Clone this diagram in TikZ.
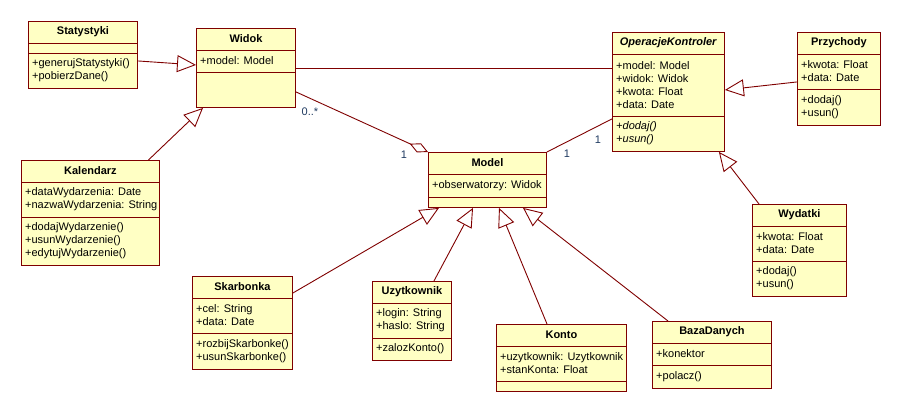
\documentclass[tikz,border=0pt]{standalone}
\usepackage{fontspec}
\setmainfont{Liberation Sans}
\usetikzlibrary{arrows.meta}

\definecolor{bordo}{HTML}{7F0000}
\definecolor{tlo}{HTML}{FFFFC4}
\definecolor{granat}{HTML}{1F3A60}

\tikzset{
  klasa/.style={draw=bordo, fill=tlo, line width=0.9pt, inner sep=0pt, anchor=north west},
  naglowek/.style={font=\fontsize{11}{13}\selectfont\bfseries, inner sep=0pt},
  pola/.style={font=\fontsize{11}{13}\selectfont, align=left, inner xsep=4pt, inner ysep=0pt, anchor=west},
  linia/.style={draw=bordo, line width=0.9pt},
  uogolnienie/.style={linia, -{Triangle[open, length=19pt, width=17pt]}},
  agregacja/.style={linia, -{Diamond[open, length=20pt, width=10pt]}},
  etykieta/.style={font=\fontsize{11}{13}\selectfont, text=granat, inner sep=0pt}
}

% nazwa, x, y, szerokosc, wys. atrybutow, wys. operacji, tytul, atrybuty, operacje
\newcommand{\klasa}[9]{%
  \node[klasa, minimum width=#4, minimum height=22+#5+#6] (#1) at (#2,#3) {};
  \node[naglowek] (#1-n) at ([yshift=-11]#1.north) {#7};
  \draw[linia] ([yshift=-22]#1.north west) -- ([yshift=-22]#1.north east);
  \draw[linia] ([yshift=-22-#5]#1.north west) -- ([yshift=-22-#5]#1.north east);
  \node[pola] (#1-a) at ([yshift=-22-#5/2]#1.north west) {#8};
  \node[pola] (#1-o) at ([yshift=-22-#5-#6/2]#1.north west) {#9};
}

\begin{document}
\begin{tikzpicture}[x=1pt, y=-1pt]

  \useasboundingbox (0,0) rectangle (901,412);

  \klasa{statystyki}{28}{21}{109}{10}{35}{Statystyki}{}{+generujStatystyki()\\+pobierzDane()}
  \klasa{widok}{196}{28}{99}{22}{35}{Widok}{+model: Model}{}
  \klasa{kalendarz}{21}{160}{138}{35}{48}{Kalendarz}%
    {+dataWydarzenia: Date\\+nazwaWydarzenia: String}%
    {+dodajWydarzenie()\\+usunWydarzenie()\\+edytujWydarzenie()}
  \klasa{operacje}{612}{32}{112}{62}{35}{\textit{OperacjeKontroler}}%
    {+model: Model\\+widok: Widok\\+kwota: Float\\+data: Date}%
    {\textit{+dodaj()}\\\textit{+usun()}}
  \klasa{przychody}{797}{32}{83}{35}{36}{Przychody}{+kwota: Float\\+data: Date}{+dodaj()\\+usun()}
  \klasa{model}{428}{152}{118}{23}{10}{Model}{+obserwatorzy: Widok}{}
  \klasa{wydatki}{752}{204}{94}{35}{35}{Wydatki}{+kwota: Float\\+data: Date}{+dodaj()\\+usun()}
  \klasa{skarbonka}{192}{276}{100}{35}{36}{Skarbonka}{+cel: String\\+data: Date}%
    {+rozbijSkarbonke()\\+usunSkarbonke()}
  \klasa{uzytkownik}{372}{281}{79}{35}{22}{Uzytkownik}{+login: String\\+haslo: String}{+zalozKonto()}
  \klasa{konto}{496}{324}{130}{35}{10}{Konto}{+uzytkownik: Uzytkownik\\+stanKonta: Float}{}
  \klasa{baza}{652}{321}{119}{22}{23}{BazaDanych}{+konektor}{+polacz()}

  \draw[uogolnienie] ([yshift=-6]statystyki.east) -- ([yshift=3]widok.west);
  \draw[uogolnienie] ([xshift=58]kalendarz.north) -- ([xshift=7]widok.south west);
  \draw[linia] (widok.east) -- (widok.east -| operacje.west);
  \draw[agregacja] ([yshift=16]widok.south east) -- (model.north west);
  \draw[linia] (model.north east) -- ([yshift=33]operacje.south west);
  \draw[uogolnienie] ([yshift=-3]przychody.west) -- ([yshift=2]operacje.east);
  \draw[uogolnienie] ([xshift=7]wydatki.north west) -- ([xshift=-6]operacje.south east);
  \draw[uogolnienie] ([yshift=-17]skarbonka.north east) -- ([xshift=11]model.south west);
  \draw[uogolnienie] ([xshift=22]uzytkownik.north) -- ([xshift=45]model.south west);
  \draw[uogolnienie] ([xshift=51]konto.north west) -- ([xshift=71]model.south west);
  \draw[uogolnienie] ([xshift=16]baza.north west) -- ([xshift=95]model.south west);

  \node[etykieta] (k1) at (310,112) {0..*};
  \node[etykieta] (k2) at (404,155) {1};
  \node[etykieta] (k3) at (598,140) {1};
  \node[etykieta] (k4) at (567,154) {1};

\end{tikzpicture}
\end{document}
